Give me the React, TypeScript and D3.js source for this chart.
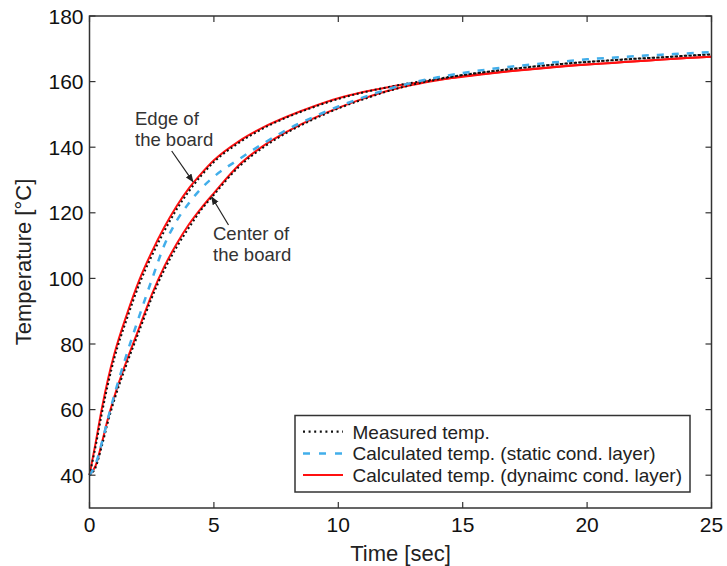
import * as d3 from "d3";

const times = [0, 0.25, 0.5, 0.75, 1, 1.5, 2, 2.5, 3, 3.5, 4, 4.5, 5, 6, 7, 8, 9, 10, 11, 12, 13, 14, 15, 16, 17, 18, 19, 20, 21, 22, 23, 24, 25];

// dynamic conductive layer model (red)
const dynEdge = [40, 50, 60.5, 69.5, 77, 89, 99.5, 108, 115.5, 122, 127.5, 132, 136, 141.8, 146.1, 149.5, 152.4, 154.9, 156.8, 158.3, 159.5, 160.6, 161.5, 162.4, 163.2, 163.9, 164.6, 165.2, 165.7, 166.2, 166.7, 167.2, 167.6];
const dynCenter = [40, 43, 50, 57.5, 64, 75, 85, 95, 103.5, 110.5, 116.5, 121.5, 126, 134.5, 140.5, 145, 148.8, 152, 154.8, 157.2, 159, 160.4, 161.6, 162.5, 163.3, 164, 164.7, 165.2, 165.7, 166.2, 166.7, 167.2, 167.6];

// measured (black dotted)
const measEdge = [40, 49, 59, 68, 75.7, 87.6, 98.2, 106.8, 114.3, 121, 126.6, 131.4, 135.5, 141.3, 145.8, 149.3, 152.2, 154.7, 156.7, 158.3, 159.7, 160.9, 162, 163, 163.9, 164.7, 165.4, 166, 166.5, 167, 167.4, 167.9, 168.3];
const measCenter = [40, 42.5, 49, 56.5, 63, 74, 84, 94, 102.5, 109.5, 115.5, 121, 125.5, 134, 140, 144.7, 148.5, 151.8, 154.6, 157.1, 159.1, 160.7, 162, 163, 163.9, 164.7, 165.4, 166, 166.5, 167, 167.4, 167.9, 168.3];

// static conductive layer model (blue dashed)
const staticCalc = [40, 43.5, 50, 57.5, 64.5, 77, 88.5, 99.5, 110, 117.5, 123, 127.5, 131, 136.3, 141.2, 145.6, 149.2, 152.4, 155.2, 157.7, 159.7, 161.3, 162.6, 163.7, 164.6, 165.4, 166.1, 166.8, 167.3, 167.8, 168.2, 168.6, 169];

const xTicks = [0, 5, 10, 15, 20, 25];
const yTicks = [40, 60, 80, 100, 120, 140, 160, 180];

const legendLabels = [
  "Measured temp.",
  "Calculated temp. (static cond. layer)",
  "Calculated temp. (dynaimc cond. layer)",
];

const W = 727;
const H = 566;
const FONT = "'Liberation Sans', Arial, Helvetica, sans-serif";
const AXIS = "#333";
const RED = "#ff1010";
const BLUE = "#42aeea";
const DOT = "#111";

export default function App() {
  const x = d3.scaleLinear().domain([0, 25]).range([89.5, 711.5]);
  const y = d3.scaleLinear().domain([30, 180]).range([508, 16]);

  const line = (vals: number[]) =>
    d3
      .line<number>()
      .x((_, i) => x(times[i]))
      .y((d) => y(d))
      .curve(d3.curveMonotoneX)(vals) || "";

  const [x0, x1] = x.range();
  const [y0, y1] = y.range();
  const tk = 6;

  const styles = [
    { stroke: DOT, width: 2.2, dash: "2,3.6" },
    { stroke: BLUE, width: 2.5, dash: "7,9" },
    { stroke: RED, width: 2, dash: "" },
  ];

  return (
    <svg width={W} height={H} style={{ position: "absolute", left: 0, top: 0, background: "#fff" }} fontFamily={FONT}>
      {/* curves: red, then measured, then static on top */}
      {[dynEdge, dynCenter].map((s, i) => (
        <path key={"r" + i} d={line(s)} fill="none" stroke={RED} strokeWidth={2} />
      ))}
      {[measEdge, measCenter].map((s, i) => (
        <path key={"m" + i} d={line(s)} fill="none" stroke={DOT} strokeWidth={2} strokeDasharray="2,2.6" />
      ))}
      <path d={line(staticCalc)} fill="none" stroke={BLUE} strokeWidth={2.5} strokeDasharray="7,8" />

      {/* frame */}
      <rect x={x0} y={y1} width={x1 - x0} height={y0 - y1} fill="none" stroke={AXIS} strokeWidth={1.5} />

      {/* ticks */}
      {xTicks.map((t) => (
        <g key={"x" + t}>
          <line x1={x(t)} x2={x(t)} y1={y0} y2={y0 - tk} stroke={AXIS} strokeWidth={1.2} />
          <line x1={x(t)} x2={x(t)} y1={y1} y2={y1 + tk} stroke={AXIS} strokeWidth={1.2} />
          <text x={x(t)} y={y0 + 24} fontSize={21} textAnchor="middle" fill="#111">{t}</text>
        </g>
      ))}
      {yTicks.map((t) => (
        <g key={"y" + t}>
          <line x1={x0} x2={x0 + tk} y1={y(t)} y2={y(t)} stroke={AXIS} strokeWidth={1.2} />
          <line x1={x1} x2={x1 - tk} y1={y(t)} y2={y(t)} stroke={AXIS} strokeWidth={1.2} />
          <text x={x0 - 6} y={y(t) + 7.5} fontSize={21} textAnchor="end" fill="#111">{t}</text>
        </g>
      ))}

      {/* axis labels */}
      <text x={(x0 + x1) / 2} y={561} fontSize={22} textAnchor="middle" fill="#222">Time [sec]</text>
      <text transform={`translate(31,${(y0 + y1) / 2}) rotate(-90)`} fontSize={22} textAnchor="middle" fill="#222">
        Temperature [°C]
      </text>

      {/* annotations */}
      <defs>
        <marker id="ah" viewBox="0 0 10 10" refX={9} refY={5} markerWidth={7} markerHeight={7} orient="auto">
          <path d="M0,1 L10,5 L0,9 z" fill="#222" />
        </marker>
      </defs>
      <text x={135} y={125} fontSize={18.5} fill="#333">Edge of</text>
      <text x={135} y={145.5} fontSize={18.5} fill="#333">the board</text>
      <line x1={171.7} y1={151} x2={193} y2={181.7} stroke="#222" strokeWidth={1.2} markerEnd="url(#ah)" />
      <text x={213} y={239.5} fontSize={18.5} fill="#333">Center of</text>
      <text x={213} y={261} fontSize={18.5} fill="#333">the board</text>
      <line x1={228.5} y1={225} x2={211.7} y2={197} stroke="#222" strokeWidth={1.2} markerEnd="url(#ah)" />

      {/* legend */}
      <rect x={295} y={415.5} width={395} height={76.5} fill="#fff" stroke={AXIS} strokeWidth={1.5} />
      {legendLabels.map((lab, i) => {
        const ly = 431.7 + i * 21.7;
        const st = styles[i];
        return (
          <g key={lab}>
            <line x1={303} x2={343} y1={ly} y2={ly} stroke={st.stroke} strokeWidth={st.width} strokeDasharray={st.dash || undefined} />
            <text x={352.5} y={ly + 6.8} fontSize={19} fill="#222">{lab}</text>
          </g>
        );
      })}
    </svg>
  );
}
